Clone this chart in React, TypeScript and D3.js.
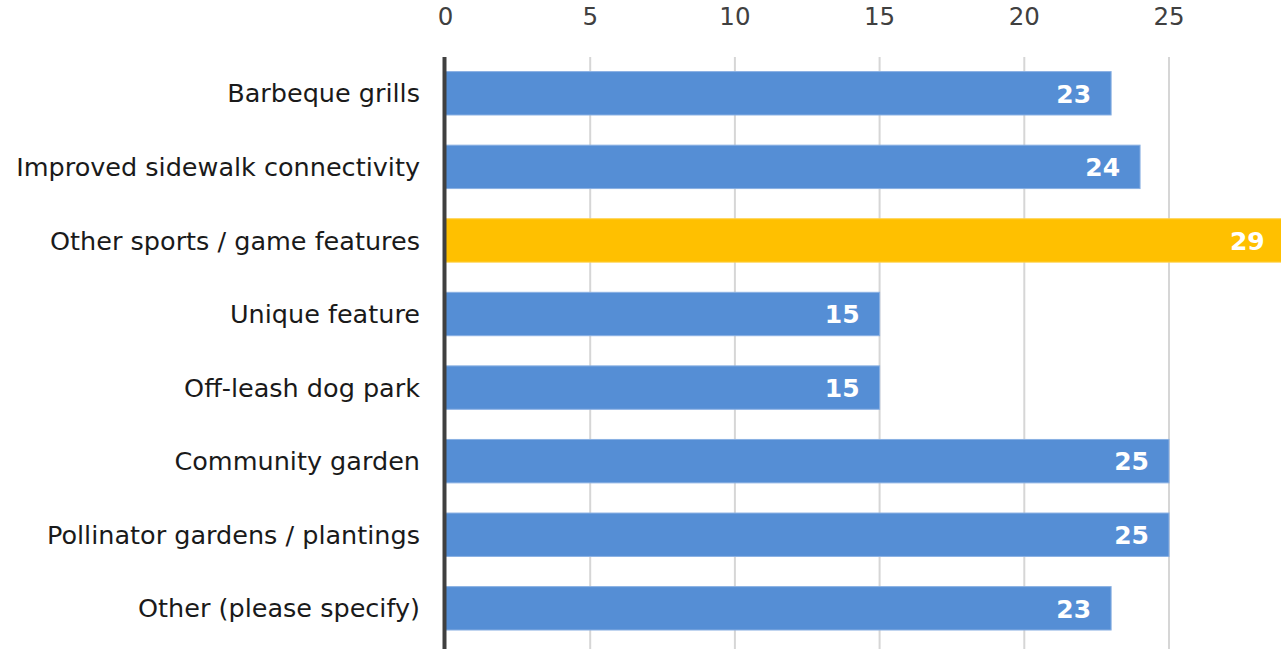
import React from "react";
import * as d3 from "d3";

const categories = [
  "Barbeque grills",
  "Improved sidewalk connectivity",
  "Other sports / game features",
  "Unique feature",
  "Off-leash dog park",
  "Community garden",
  "Pollinator gardens / plantings",
  "Other (please specify)",
];
const values = [23, 24, 29, 15, 15, 25, 25, 23];
const highlighted = ["Other sports / game features"];
const tickValues = [0, 5, 10, 15, 20, 25];

const W = 1281;
const H = 649;
const FONT = "'DejaVu Sans', sans-serif";

export default function App() {
  const x = d3.scaleLinear().domain([0, 25]).range([445.5, 1169]);
  const y = d3
    .scaleBand<string>()
    .domain(categories)
    .range([56.5, 645.1])
    .paddingInner(0.41)
    .paddingOuter(0.205);
  const bw = y.bandwidth();

  return (
    <div style={{ position: "fixed", left: 0, top: 0, width: W, height: H, background: "#fff" }}>
      <svg width={W} height={H} style={{ display: "block" }}>
        {tickValues.map((t) => (
          <g key={t}>
            {t !== 0 && (
              <line x1={x(t)} x2={x(t)} y1={57} y2={H} stroke="#d6d6d6" strokeWidth={2} />
            )}
            <text
              x={x(t)}
              y={25}
              textAnchor="middle"
              fontFamily={FONT}
              fontSize={24.5}
              fill="#404040"
            >
              {t}
            </text>
          </g>
        ))}
        {categories.map((c, i) => {
          const v = values[i];
          const yy = y(c)!;
          const hl = highlighted.includes(c);
          return (
            <g key={c}>
              <rect
                x={x(0)}
                y={yy}
                width={x(v) - x(0)}
                height={bw}
                fill={hl ? "#ffc000" : "#558ed5"}
                stroke={hl ? "#ffd24d" : "#8ab0e3"}
                strokeWidth={1}
              />
              <text
                x={x(v) - 20}
                y={yy + bw / 2}
                dy="0.37em"
                textAnchor="end"
                fontFamily={FONT}
                fontWeight="bold"
                fontSize={25}
                fill="#fff"
              >
                {v}
              </text>
              <text
                x={420}
                y={yy + bw / 2}
                dy="0.36em"
                textAnchor="end"
                fontFamily={FONT}
                fontSize={25.5}
                fill="#1a1a1a"
              >
                {c}
              </text>
            </g>
          );
        })}
        <line x1={x(0) - 1} x2={x(0) - 1} y1={57} y2={H} stroke="#404040" strokeWidth={4} />
      </svg>
    </div>
  );
}
